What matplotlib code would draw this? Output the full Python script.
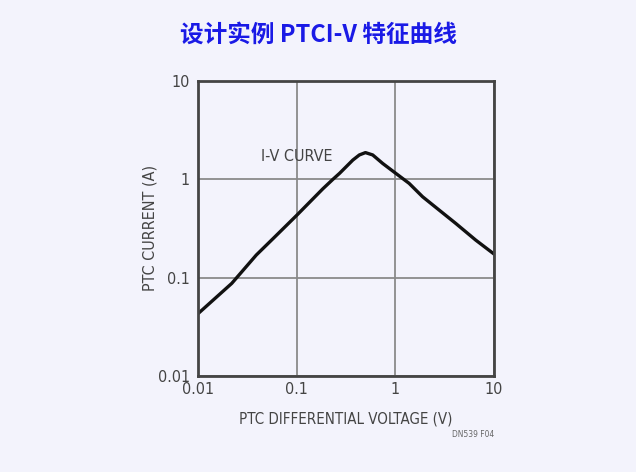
import matplotlib.pyplot as plt

# data
volts = [0.01, 0.022, 0.039, 0.058, 0.1, 0.184, 0.233, 0.272, 0.371, 0.432,
         0.498, 0.59, 0.745, 1.0, 1.38, 1.89, 2.78, 4.1, 6.53, 10.0]
amps = [0.043, 0.0875, 0.17, 0.251, 0.43, 0.80, 1.0, 1.15, 1.57, 1.77,
        1.87, 1.77, 1.45, 1.16, 0.91, 0.665, 0.487, 0.356, 0.241, 0.174]
x_ticks = [0.01, 0.1, 1, 10]
x_labels = ['0.01', '0.1', '1', '10']
y_ticks = [0.01, 0.1, 1, 10]
y_labels = ['0.01', '0.1', '1', '10']

bg = '#f3f3fc'
txt = '#444444'
fnt = dict(family='DejaVu Sans', stretch='condensed', fontsize=11.5, color=txt)

fig = plt.figure(figsize=(6.36, 4.72), dpi=100, facecolor=bg)
ax = fig.add_axes([0.3113, 0.2034, 0.4654, 0.625], facecolor=bg)

ax.plot(volts, amps, color='#111111', lw=2.4, solid_capstyle='round',
        solid_joinstyle='round')
ax.set_xscale('log')
ax.set_yscale('log')
ax.set_xlim(0.01, 10)
ax.set_ylim(0.01, 10)
ax.set_xticks(x_ticks)
ax.set_xticklabels(x_labels, **fnt)
ax.set_yticks(y_ticks)
ax.set_yticklabels(y_labels, **fnt)
ax.minorticks_off()
ax.tick_params(axis='x', length=0, pad=4)
ax.tick_params(axis='y', length=0, pad=6)
ax.grid(True, color='#8a8a8a', lw=1.3)
for s in ax.spines.values():
    s.set_color('#444444')
    s.set_linewidth(2)

ax.set_xlabel('PTC DIFFERENTIAL VOLTAGE (V)', **dict(fnt, fontsize=10.8))
ax.xaxis.set_label_coords(0.5, -0.122)
ax.set_ylabel('PTC CURRENT (A)', va='center', **fnt)
ax.yaxis.set_label_coords(-0.162, 0.502)
ax.text(0.1, 1.7, 'I-V CURVE', ha='center', va='center', **fnt)

fig.text(0.7767, 0.08, 'DN539 F04', family='DejaVu Sans', stretch='condensed',
         fontsize=6, color='#666666', ha='right', va='center')
fig.text(0.5, 0.926, '设计实例 PTCI-V 特征曲线', family=['Noto Sans CJK SC', 'DejaVu Sans'],
         fontsize=17, fontweight='bold', color='#1a1ae6', ha='center', va='center')

fig.savefig('out.png', dpi=100, facecolor=bg)
